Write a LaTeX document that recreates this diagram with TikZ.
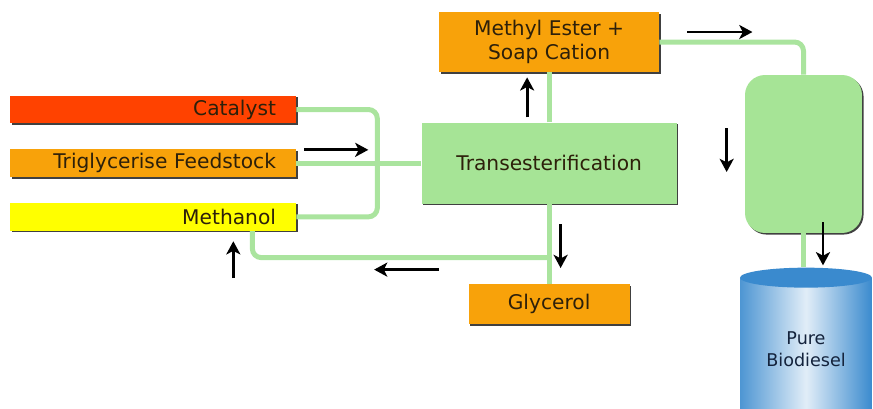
\documentclass[tikz,border=0pt]{standalone}
\usepackage{fontspec}
\setmainfont{DejaVu Sans}
\usetikzlibrary{positioning,calc,shapes.geometric,shadows}
\usetikzlibrary{arrows.meta}
\definecolor{redbox}{RGB}{255,66,0}
\definecolor{orangebox}{RGB}{248,162,10}
\definecolor{yellowbox}{RGB}{255,255,0}
\definecolor{greenbox}{RGB}{166,228,150}
\definecolor{pipegreen}{RGB}{170,228,158}
\definecolor{tankblue}{RGB}{58,138,206}
\definecolor{textdark}{RGB}{45,32,10}
\definecolor{textnavy}{RGB}{20,35,60}

\begin{document}
\begin{tikzpicture}[
  x = 0.02cm,
  y = -0.02cm,
  box/.style = {
    rectangle,
    text = textdark,
    font = \fontsize{11.5}{14}\selectfont,
    drop shadow = {shadow xshift=0.9pt, shadow yshift=-0.9pt, fill=black!75, opacity=1},
  },
  feed/.style = {
    box,
    minimum width = 5.72cm,
    minimum height = 0.56cm,
    text width = 4.92cm,
    inner xsep = 0.4cm,
    inner ysep = 0pt,
    align = right,
  },
  unit/.style = {
    box,
    fill = orangebox,
    align = center,
    inner ysep = 1pt,
  },
  pipe/.style = {
    draw = pipegreen,
    line width = 0.1cm,
    rounded corners = 0.18cm,
  },
  flow/.style = {
    draw,
    line width = 1.6pt,
    -{Stealth[length=7.5pt,width=8pt,inset=2pt]},
  },
]

  \path[use as bounding box,clip] (0,0) rectangle (873,409);

  % feed lines
  \node[feed,fill=redbox] (catalyst) at (153,109.5) {Catalyst};
  \node[feed,fill=orangebox] (triglyc) [below=0.5cm of catalyst] {Triglycerise Feedstock};
  \node[feed,fill=yellowbox] (methanol) [below=0.5cm of triglyc] {Methanol};

  % reactor and products
  \node[box,fill=greenbox,minimum width=5.1cm,minimum height=1.62cm] (trans) [right=2.5cm of triglyc] {Transesterification};
  \node[unit,minimum width=4.4cm,minimum height=1.2cm] (methyl) [above=1.0cm of trans] {Methyl Ester +\\Soap Cation};
  \node[unit,minimum width=3.22cm,minimum height=0.8cm] (glycerol) [below=1.6cm of trans] {Glycerol};

  % separator and storage
  \node[box,fill=greenbox,rounded corners=0.4cm,minimum width=2.34cm,minimum height=3.16cm] (tank) at (803.5,154) {};
  \node[rectangle,left color=tankblue!90,right color=tankblue,middle color=white!85!tankblue,
        minimum width=2.64cm,minimum height=2.84cm,align=center,text=textnavy,
        font=\fontsize{10}{12.5}\selectfont] (biodiesel) at (806,349) {Pure\\Biodiesel};
  \node[ellipse,fill=tankblue,minimum width=2.64cm,minimum height=0.4cm] (biotop) at (biodiesel.north) {};

  % pipes
  \coordinate (split) at ($(trans.south)!0.67!(glycerol.north)$);
  \coordinate (recycle) at ($(methanol.south east)+(-44,0)$);

  \path[pipe] (catalyst.east) -- ++(81,0) |- (methanol.east);
  \path[pipe] (triglyc.east) -- (triglyc.east -| trans.west);
  \path[pipe] (trans.north) -- (methyl.south);
  \path[pipe] (methyl.east) -| (tank.north);
  \path[pipe] (tank.south) -- (tank.south |- biotop.north);
  \path[pipe] (trans.south) -- (glycerol.north);
  \path[pipe] (split) -| (recycle);

  % flow arrows
  \coordinate (f1a) at ($(triglyc.north east)+(8,1)$);
  \coordinate (f1b) at ($(triglyc.north east)+(72,1)$);
  \coordinate (f2a) at ($(trans.north)+(-22,-5)$);
  \coordinate (f2b) at ($(trans.north)+(-22,-45)$);
  \coordinate (f3a) at ($(methyl.east)+(28,-10)$);
  \coordinate (f3b) at ($(methyl.east)+(93,-10)$);
  \coordinate (f4a) at ($(tank.west)+(-18,-26)$);
  \coordinate (f4b) at ($(tank.west)+(-18,18)$);
  \coordinate (f5a) at ($(tank.south)+(19.5,-11)$);
  \coordinate (f5b) at ($(tank.south)+(19.5,32)$);
  \coordinate (f6a) at ($(trans.south)+(11.5,20)$);
  \coordinate (f6b) at ($(trans.south)+(11.5,64)$);
  \coordinate (f7a) at ($(split)+(-110,12)$);
  \coordinate (f7b) at ($(split)+(-175,12)$);
  \coordinate (f8a) at ($(methanol.south east)+(-63,47)$);
  \coordinate (f8b) at ($(methanol.south east)+(-63,10)$);

  \path[flow] (f1a) -- (f1b);
  \path[flow] (f2a) -- (f2b);
  \path[flow] (f3a) -- (f3b);
  \path[flow] (f4a) -- (f4b);
  \path[flow] (f5a) -- (f5b);
  \path[flow] (f6a) -- (f6b);
  \path[flow] (f7a) -- (f7b);
  \path[flow] (f8a) -- (f8b);

\end{tikzpicture}
\end{document}
